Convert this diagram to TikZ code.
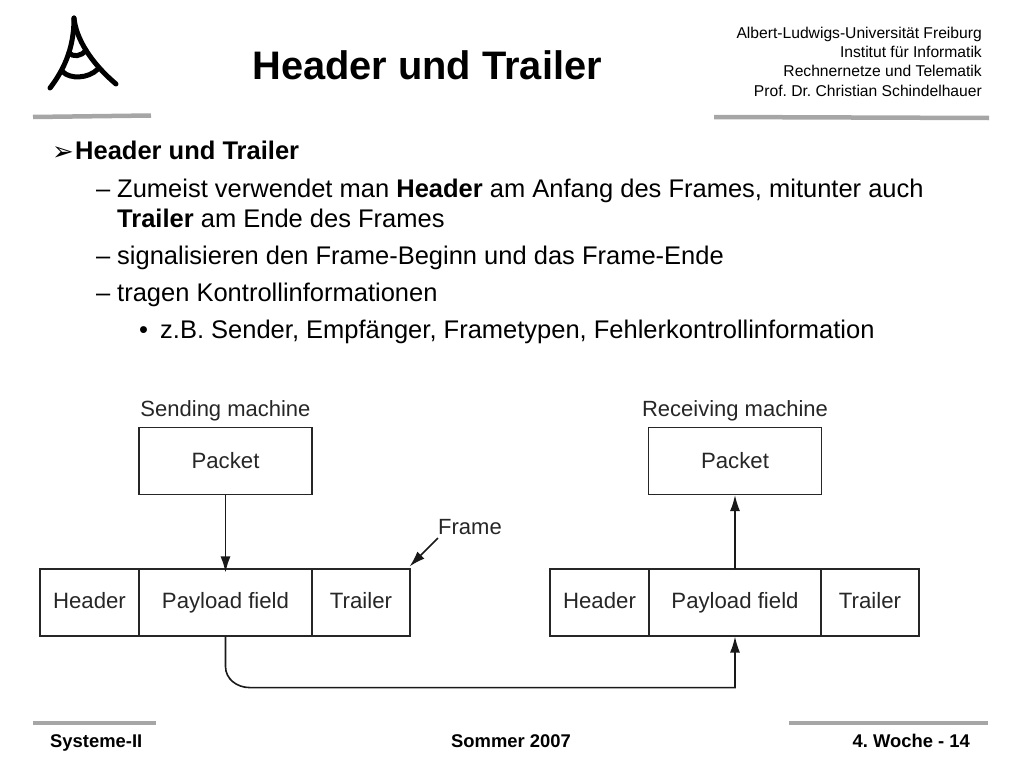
\documentclass[tikz,border=0pt]{standalone}
\usepackage{fontspec}
\setmainfont{Liberation Sans}
\usetikzlibrary{arrows.meta}
\frenchspacing
\tikzset{
  field/.style={draw=black!85, line width=1.1pt, minimum height=67pt, inner sep=0pt, text height=16pt, text depth=4pt, font=\fontsize{22.2}{22.2}\selectfont, text=black!85},
  packetbox/.style={field, minimum width=173pt, text height=19pt, text depth=4pt},
  body/.style={anchor=base west, inner sep=0pt, font=\fontsize{25.5}{25.5}\selectfont},
  inst/.style={anchor=base east, inner sep=0pt, font=\fontsize{15.65}{15.65}\selectfont},
  foot/.style={inner sep=0pt, anchor=base, font=\bfseries\fontsize{18.4}{18.4}\selectfont},
  capt/.style={inner sep=0pt, anchor=base, font=\fontsize{22}{22}\selectfont, text=black!85},
  bar/.style={draw=black!35, line width=4.5pt},
  logo/.style={line width=5pt, line cap=round},
  flow/.style={line width=1.6pt, draw=black!90, -{Latex[length=16pt,width=10pt]}}
}
\begin{document}
\begin{tikzpicture}[x=1pt,y=-1pt]
\useasboundingbox (0,0) rectangle (1024,768);

% logo
\draw[logo] (74,18) .. controls (74,38) and (70,62) .. (50,88);
\draw[logo] (74,18) .. controls (76,38) and (90,62) .. (116,84);
\draw[logo] (69,53) .. controls (73,57) and (81,57) .. (86,50);
\draw[logo] (63,72) .. controls (70,79) and (88,79) .. (98,69);

% rules
\draw[bar] (33,117) -- (151,115.5);
\draw[bar] (714,117) -- (989,118);
\draw[bar] (33,723) -- (156,723);
\draw[bar] (789,723) -- (988,723);

% head
\node[inner sep=0pt, anchor=base] (title) at (427,79) {\bfseries\fontsize{39.8}{39.8}\selectfont Header und Trailer};
\node[inst] (inst1) at (982,39) {Albert-Ludwigs-Universität Freiburg};
\node[inst] (inst2) at (982,58) {Institut für Informatik};
\node[inst] (inst3) at (982,77) {Rechnernetze und Telematik};
\node[inst] (inst4) at (982,96) {Prof. Dr. Christian Schindelhauer};

% text
\node[inner sep=0pt, anchor=base west, font=\fontsize{26}{26}\selectfont] (mark) at (52,160) {\fontspec{DejaVu Sans}➢};
\node[body] (line0) at (75,159.5) {\bfseries Header und Trailer};
\node[body] (dash1) at (96,197) {–};
\node[body] (line1) at (117,197) {Zumeist verwendet man \textbf{Header} am Anfang des Frames, mitunter auch};
\node[body] (line2) at (117,227) {\textbf{Trailer} am Ende des Frames};
\node[body] (dash2) at (96,264) {–};
\node[body] (line3) at (117,264) {signalisieren den Frame-Beginn und das Frame-Ende};
\node[body] (dash3) at (96,301) {–};
\node[body] (line4) at (117,301) {tragen Kontrollinformationen};
\node[body] (dot4) at (139,338) {•};
\node[body] (line5) at (160,338) {z.B. Sender, Empfänger, Frametypen, Fehlerkontrollinformation};

% sender
\node[capt] (sendcap) at (225.5,416) {Sending machine};
\node[packetbox] (sendpacket) at (225.5,461) {Packet};
\node[field, minimum width=99pt] (sendheader) at (89.5,602.5) {Header};
\node[field, minimum width=173pt] (sendload) at (225.5,602.5) {Payload field};
\node[field, minimum width=98pt] (sendtrailer) at (361,602.5) {Trailer};

% receiver
\node[capt] (recvcap) at (735,416) {Receiving machine};
\node[packetbox] (recvpacket) at (735,461) {Packet};
\node[field, minimum width=99pt] (recvheader) at (599.5,602.5) {Header};
\node[field, minimum width=172pt] (recvload) at (735,602.5) {Payload field};
\node[field, minimum width=98pt] (recvtrailer) at (870,602.5) {Trailer};

% frame label
\node[capt] (framecap) at (470,534) {Frame};
\coordinate (frametail) at (438,538);

% arrows
\draw[flow] (sendpacket) -- ([yshift=-4pt]sendload.north);
\draw[flow] (recvload) ++(0,-33.5) -- (recvpacket);
\draw[flow] (frametail) -- ([shift={(-1,-2)}]sendtrailer.north east);
\draw[flow] (sendload.south) -- ++(0,30) to[out=-90,in=180] ++(24,21) -| (recvload.south);

% footer
\node[foot, anchor=base west] (footl) at (50,747) {Systeme-II};
\node[foot] (footm) at (511,747) {Sommer 2007};
\node[foot, anchor=base east] (footr) at (970,747) {4. Woche - 14};
\end{tikzpicture}
\end{document}
